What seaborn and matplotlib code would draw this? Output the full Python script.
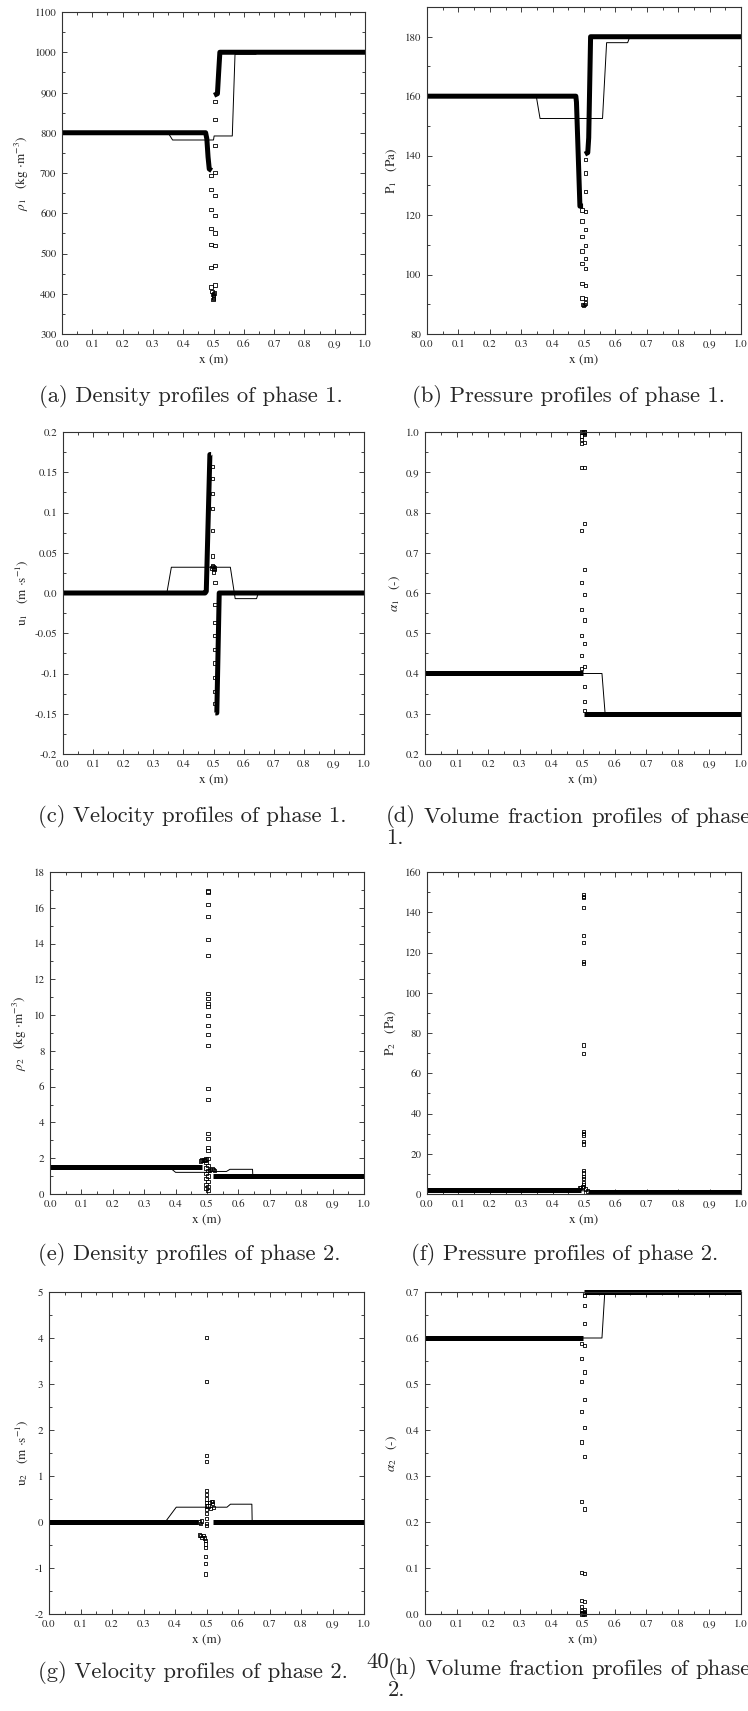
import matplotlib
matplotlib.use('Agg')
import matplotlib.pyplot as plt
import seaborn as sns
from matplotlib.ticker import FixedLocator, FixedFormatter, MultipleLocator

# ---- data ----
x_ticks = [0.0, 0.1, 0.2, 0.3, 0.4, 0.5, 0.6, 0.7, 0.8, 0.9, 1.0]
x_tick_labels = ['0.0', '0.1', '0.2', '0.3', '0.4', '0.5', '0.6', '0.7', '0.8', '0.9', '1.0']

# (a) density phase 1
a_exact_x = [0.0, 0.35, 0.365, 0.5, 0.502, 0.562, 0.571, 0.64, 0.645, 1.0]
a_exact_y = [800, 800, 782, 782, 792, 792, 995, 995, 1000, 1000]
a_num_x = [0.0, 0.474, 0.478, 0.482, 0.486, 0.494, 0.502, 0.513, 0.517, 0.521, 1.0]
a_num_y = [800, 800, 785, 740, 710, 706, 893, 897, 950, 1000, 1000]
a_num_seg = [0, 0, 0, 0, 0, 0, 1, 1, 1, 1, 1]
a_pts_x = [0.492] * 7 + [0.505] * 10 + [0.495, 0.497, 0.499, 0.500, 0.501, 0.503, 0.498, 0.500]
a_pts_y = [693, 659, 610, 562, 523, 465, 417,
           877, 832, 769, 702, 645, 594, 551, 519, 470, 422,
           405, 398, 392, 388, 395, 402, 386, 400]

# (b) pressure phase 1
b_exact_x = [0.0, 0.348, 0.36, 0.559, 0.572, 0.639, 0.646, 1.0]
b_exact_y = [160, 160, 152.5, 152.5, 178, 178, 180, 180]
b_num_x = [0.0, 0.474, 0.476, 0.487, 0.497, 0.503, 0.512, 0.515, 0.521, 1.0]
b_num_y = [160, 160, 158, 123, 123, 140.5, 141, 146, 180, 180]
b_num_seg = [0, 0, 0, 0, 0, 1, 1, 1, 1, 1]
b_pts_x = [0.494] * 7 + [0.505] * 10 + [0.496, 0.499, 0.502, 0.504]
b_pts_y = [121.7, 118, 112.7, 107.9, 103.6, 97.1, 92.1,
           138.7, 134.2, 127.9, 121.2, 115.2, 109.8, 105.4, 102, 96.4, 91.9,
           90, 89.6, 90, 90.4]

# (c) velocity phase 1
c_exact_x = [0.0, 0.345, 0.36, 0.556, 0.572, 0.643, 0.649, 1.0]
c_exact_y = [0.0, 0.0, 0.032, 0.032, -0.007, -0.007, 0.0, 0.0]
c_num_x = [0.0, 0.472, 0.476, 0.488, 0.492, 0.506, 0.511, 0.519, 1.0]
c_num_y = [0.0, 0.0, 0.002, 0.172, 0.172, -0.149, -0.149, 0.0, 0.0]
c_num_seg = [0, 0, 0, 0, 0, 1, 1, 1, 1]
c_pts_x = [0.497] * 7 + [0.495, 0.498, 0.500, 0.502, 0.504, 0.500, 0.505] + [0.505] * 8
c_pts_y = [0.157, 0.142, 0.124, 0.105, 0.078, 0.046, 0.034,
           0.031, 0.033, 0.030, 0.029, 0.031, 0.026, 0.013,
           -0.014, -0.037, -0.053, -0.070, -0.087, -0.105, -0.122, -0.137]

# (d) volume fraction phase 1
d_exact_x = [0.0, 0.56, 0.57, 1.0]
d_exact_y = [0.4, 0.4, 0.3, 0.3]
d_num_x = [0.0, 0.499, 0.504, 1.0]
d_num_y = [0.4, 0.4, 0.3, 0.3]
d_num_seg = [0, 0, 1, 1]
d_pts_x = [0.495] * 10 + [0.505] * 14 + [0.497, 0.500, 0.503]
d_pts_y = [0.990, 0.982, 0.971, 0.911, 0.755, 0.626, 0.559, 0.494, 0.444, 0.413,
           1.0, 0.997, 0.993, 0.973, 0.912, 0.773, 0.658, 0.596, 0.533, 0.474,
           0.417, 0.368, 0.331, 0.308,
           1.0, 0.998, 1.0]

# (e) density phase 2
e_exact_x = [0.0, 0.38, 0.40, 0.50, 0.52, 0.562, 0.573, 0.645, 0.646, 1.0]
e_exact_y = [1.5, 1.5, 1.21, 1.21, 1.26, 1.26, 1.38, 1.38, 1.0, 1.0]
e_num_x = [0.0, 0.483, 0.52, 1.0]
e_num_y = [1.5, 1.5, 1.0, 1.0]
e_num_seg = [0, 0, 1, 1]
e_pts_x = ([0.503] * 21
           + [0.479, 0.482, 0.485, 0.488, 0.491, 0.494, 0.497]
           + [0.508, 0.512, 0.516, 0.520, 0.524]
           + [0.497, 0.503] * 6)
e_pts_y = ([16.94, 16.88, 16.2, 15.5, 14.24, 13.35, 11.19, 10.93, 10.65, 10.47, 9.97,
            9.43, 8.93, 8.29, 5.91, 5.28, 3.4, 3.1, 2.62, 2.44, 2.0]
           + [1.85, 1.9, 1.88, 1.92, 1.87, 1.9, 1.95]
           + [1.3, 1.38, 1.4, 1.35, 1.3]
           + [1.75, 1.6, 1.45, 1.3, 1.15, 1.0, 0.85, 0.7, 0.55, 0.4, 0.3, 0.2])

# (f) pressure phase 2
f_exact_x = [0.0, 0.35, 0.37, 0.56, 0.57, 1.0]
f_exact_y = [2.0, 2.0, 1.6, 1.6, 1.0, 1.0]
f_num_x = [0.0, 0.49, 0.512, 1.0]
f_num_y = [2.0, 2.0, 1.0, 1.0]
f_num_seg = [0, 0, 1, 1]
f_pts_x = [0.499] * 22 + [0.485, 0.49, 0.495, 0.505, 0.51]
f_pts_y = [148.8, 148, 147.3, 142.3, 128.6, 125.1, 115.7, 114.4, 74, 69.8, 31.1, 29.9,
           29.3, 26.1, 24.8, 11.6, 10.4, 8.8, 7.6, 5.5, 4.6, 3.8,
           3.0, 3.2, 3.5, 2.5, 1.5]

# (g) velocity phase 2
g_exact_x = [0.0, 0.369, 0.404, 0.565, 0.576, 0.644, 0.645, 1.0]
g_exact_y = [0.0, 0.0, 0.322, 0.322, 0.387, 0.387, 0.0, 0.0]
g_num_x = [0.0, 0.473, 0.521, 1.0]
g_num_y = [0.0, 0.0, 0.0, 0.0]
g_num_seg = [0, 0, 1, 1]
g_pts_x = ([0.500] * 14
           + [0.505, 0.510, 0.515, 0.520, 0.523, 0.512, 0.520]
           + [0.478, 0.482, 0.486, 0.490, 0.494, 0.498, 0.498, 0.498]
           + [0.498, 0.498, 0.498]
           + [0.478, 0.481, 0.484])
g_pts_y = ([4.01, 3.05, 1.45, 1.31, 0.68, 0.59, 0.5, 0.42, 0.35, 0.28, 0.19, 0.08, -0.03, -0.08]
           + [0.35, 0.42, 0.45, 0.40, 0.32, 0.30, 0.45]
           + [-0.28, -0.30, -0.33, -0.30, -0.35, -0.40, -0.48, -0.55]
           + [-0.75, -0.91, -1.13]
           + [0.0, -0.03, 0.02])

# (h) volume fraction phase 2
h_exact_x = [0.0, 0.56, 0.569, 1.0]
h_exact_y = [0.6, 0.6, 0.7, 0.7]
h_num_x = [0.0, 0.499, 0.503, 1.0]
h_num_y = [0.6, 0.6, 0.7, 0.7]
h_num_seg = [0, 0, 1, 1]
h_pts_x = [0.495] * 11 + [0.505] * 14 + [0.497, 0.500, 0.503]
h_pts_y = [0.588, 0.556, 0.505, 0.441, 0.374, 0.245, 0.090, 0.029, 0.017, 0.008, 0.003,
           0.693, 0.670, 0.632, 0.584, 0.526, 0.466, 0.405, 0.342, 0.228, 0.088,
           0.027, 0.010, 0.006, 0.001,
           0.0, 0.002, 0.0]

panels = [
    dict(box=(62, 365, 12, 334), ylim=(300, 1100),
         yticks=[300, 400, 500, 600, 700, 800, 900, 1000, 1100],
         ylabels=['300', '400', '500', '600', '700', '800', '900', '1000', '1100'], yminor=50,
         ylabel=r'$\rho_1$   (kg $\cdot$m$^{-3}$)', ylab_x=22,
         ex=a_exact_x, ey=a_exact_y, nx=a_num_x, ny=a_num_y, ns=a_num_seg, px=a_pts_x, py=a_pts_y,
         cap='(a) Density profiles of phase 1.', cap_xy=(39, 397)),
    dict(box=(427, 741, 7, 334), ylim=(80, 190),
         yticks=[80, 100, 120, 140, 160, 180],
         ylabels=['80', '100', '120', '140', '160', '180'], yminor=10,
         ylabel=r'P$_1$   (Pa)', ylab_x=392,
         ex=b_exact_x, ey=b_exact_y, nx=b_num_x, ny=b_num_y, ns=b_num_seg, px=b_pts_x, py=b_pts_y,
         cap='(b) Pressure profiles of phase 1.', cap_xy=(412, 397)),
    dict(box=(63, 364, 432, 754), ylim=(-0.2, 0.2),
         yticks=[-0.2, -0.15, -0.1, -0.05, 0.0, 0.05, 0.1, 0.15, 0.2],
         ylabels=['-0.2', '-0.15', '-0.1', '-0.05', '0.0', '0.05', '0.1', '0.15', '0.2'], yminor=0.025,
         ylabel=r'u$_1$   (m $\cdot$s$^{-1}$)', ylab_x=22,
         ex=c_exact_x, ey=c_exact_y, nx=c_num_x, ny=c_num_y, ns=c_num_seg, px=c_pts_x, py=c_pts_y,
         cap='(c) Velocity profiles of phase 1.', cap_xy=(38, 817)),
    dict(box=(425, 741, 432, 754), ylim=(0.2, 1.0),
         yticks=[0.2, 0.3, 0.4, 0.5, 0.6, 0.7, 0.8, 0.9, 1.0],
         ylabels=['0.2', '0.3', '0.4', '0.5', '0.6', '0.7', '0.8', '0.9', '1.0'], yminor=0.05,
         ylabel=r'$\alpha_1$   (-)', ylab_x=395,
         ex=d_exact_x, ey=d_exact_y, nx=d_num_x, ny=d_num_y, ns=d_num_seg, px=d_pts_x, py=d_pts_y,
         cap=None, cap_xy=None),
    dict(box=(50, 364, 872, 1194), ylim=(0, 18),
         yticks=[0, 2, 4, 6, 8, 10, 12, 14, 16, 18],
         ylabels=['0', '2', '4', '6', '8', '10', '12', '14', '16', '18'], yminor=1,
         ylabel=r'$\rho_2$   (kg $\cdot$m$^{-3}$)', ylab_x=20,
         ex=e_exact_x, ey=e_exact_y, nx=e_num_x, ny=e_num_y, ns=e_num_seg, px=e_pts_x, py=e_pts_y,
         cap='(e) Density profiles of phase 2.', cap_xy=(38, 1255)),
    dict(box=(427, 741, 872, 1194), ylim=(0, 160),
         yticks=[0, 20, 40, 60, 80, 100, 120, 140, 160],
         ylabels=['0', '20', '40', '60', '80', '100', '120', '140', '160'], yminor=10,
         ylabel=r'P$_2$   (Pa)', ylab_x=391,
         ex=f_exact_x, ey=f_exact_y, nx=f_num_x, ny=f_num_y, ns=f_num_seg, px=f_pts_x, py=f_pts_y,
         cap='(f) Pressure profiles of phase 2.', cap_xy=(411, 1255)),
    dict(box=(49, 364, 1292, 1614), ylim=(-2, 5),
         yticks=[-2, -1, 0, 1, 2, 3, 4, 5],
         ylabels=['-2', '-1', '0', '1', '2', '3', '4', '5'], yminor=0.5,
         ylabel=r'u$_2$   (m $\cdot$s$^{-1}$)', ylab_x=22,
         ex=g_exact_x, ey=g_exact_y, nx=g_num_x, ny=g_num_y, ns=g_num_seg, px=g_pts_x, py=g_pts_y,
         cap='(g) Velocity profiles of phase 2.', cap_xy=(38, 1673)),
    dict(box=(425, 741, 1292, 1614), ylim=(0.0, 0.7),
         yticks=[0.0, 0.1, 0.2, 0.3, 0.4, 0.5, 0.6, 0.7],
         ylabels=['0.0', '0.1', '0.2', '0.3', '0.4', '0.5', '0.6', '0.7'], yminor=0.05,
         ylabel=r'$\alpha_2$   (-)', ylab_x=392,
         ex=h_exact_x, ey=h_exact_y, nx=h_num_x, ny=h_num_y, ns=h_num_seg, px=h_pts_x, py=h_pts_y,
         cap=None, cap_xy=None),
]

sns.set_style('ticks')
plt.rcParams['font.family'] = ['STIXGeneral', 'DejaVu Serif']
plt.rcParams['mathtext.fontset'] = 'stix'
plt.rcParams['axes.linewidth'] = 0.8

W, H = 748, 1711
fig = plt.figure(figsize=(W / 100, H / 100), dpi=100)
fig.patch.set_facecolor('white')
cap_kw = dict(family='cmr10', fontsize=16.3, ha='left', va='center')

for p in panels:
    l, r, t, b = p['box']
    ax = fig.add_axes([l / W, 1 - b / H, (r - l) / W, (b - t) / H])
    # exact solution: thin line
    sns.lineplot(x=p['ex'], y=p['ey'], ax=ax, color='black', lw=0.7,
                 sort=False, estimator=None)
    # numerical solution: dense squares -> thick band
    sns.lineplot(x=p['nx'], y=p['ny'], units=p['ns'], ax=ax, color='black', lw=3.6,
                 sort=False, estimator=None, solid_capstyle='butt', clip_on=False)
    # scattered cells near the interface
    sns.scatterplot(x=p['px'], y=p['py'], ax=ax, marker='s', s=5.5, color='black',
                    facecolor='none', edgecolor='black', linewidth=0.6, clip_on=False)

    ax.set_xlim(0, 1)
    ax.set_ylim(*p['ylim'])
    ax.xaxis.set_major_locator(FixedLocator(x_ticks))
    ax.xaxis.set_major_formatter(FixedFormatter(x_tick_labels))
    ax.xaxis.set_minor_locator(MultipleLocator(0.05))
    ax.yaxis.set_major_locator(FixedLocator(p['yticks']))
    ax.yaxis.set_major_formatter(FixedFormatter(p['ylabels']))
    ax.yaxis.set_minor_locator(MultipleLocator(p['yminor']))
    ax.tick_params(which='both', direction='in', top=True, right=True, width=0.6,
                   labelsize=7.8, color='#222222')
    ax.tick_params(which='major', length=3.5)
    ax.tick_params(which='minor', length=2)
    ax.tick_params(axis='x', pad=4)
    ax.tick_params(axis='y', pad=4)
    for sp in ax.spines.values():
        sp.set_color('#333333')

    ax.set_xlabel('x (m)', fontsize=9.5)
    ax.xaxis.set_label_coords(0.5, -27 / (b - t))
    ax.xaxis.label.set_va('center')
    ax.set_ylabel(p['ylabel'], fontsize=9.5)
    ax.yaxis.set_label_coords((p['ylab_x'] - l) / (r - l), 0.5)
    ax.yaxis.label.set_va('center')

    if p['cap']:
        cx, cy = p['cap_xy']
        fig.text(cx / W, 1 - cy / H, p['cap'], **cap_kw)


# two-line captions: first line is justified to the subfigure width (runs off the page)
def justified_line(words, x0, x1, y):
    rend = fig.canvas.get_renderer()
    texts = [fig.text(0, 1 - y / H, w, **cap_kw) for w in words]
    widths = [tx.get_window_extent(rend).width for tx in texts]
    gap = (x1 - x0 - sum(widths)) / (len(words) - 1)
    xpos = x0
    for tx, wd in zip(texts, widths):
        tx.set_x(xpos / W)
        xpos += wd + gap


justified_line(['(d)', 'Volume', 'fraction', 'profiles', 'of', 'phase'], 386, 751, 817)
fig.text(386 / W, 1 - 838 / H, '1.', **cap_kw)
justified_line(['(h)', 'Volume', 'fraction', 'profiles', 'of', 'phase'], 388, 751, 1669)
fig.text(388 / W, 1 - 1690 / H, '2.', **cap_kw)
fig.text(366 / W, 1 - 1662 / H, '40', **cap_kw)

fig.savefig('out.png', dpi=100)
